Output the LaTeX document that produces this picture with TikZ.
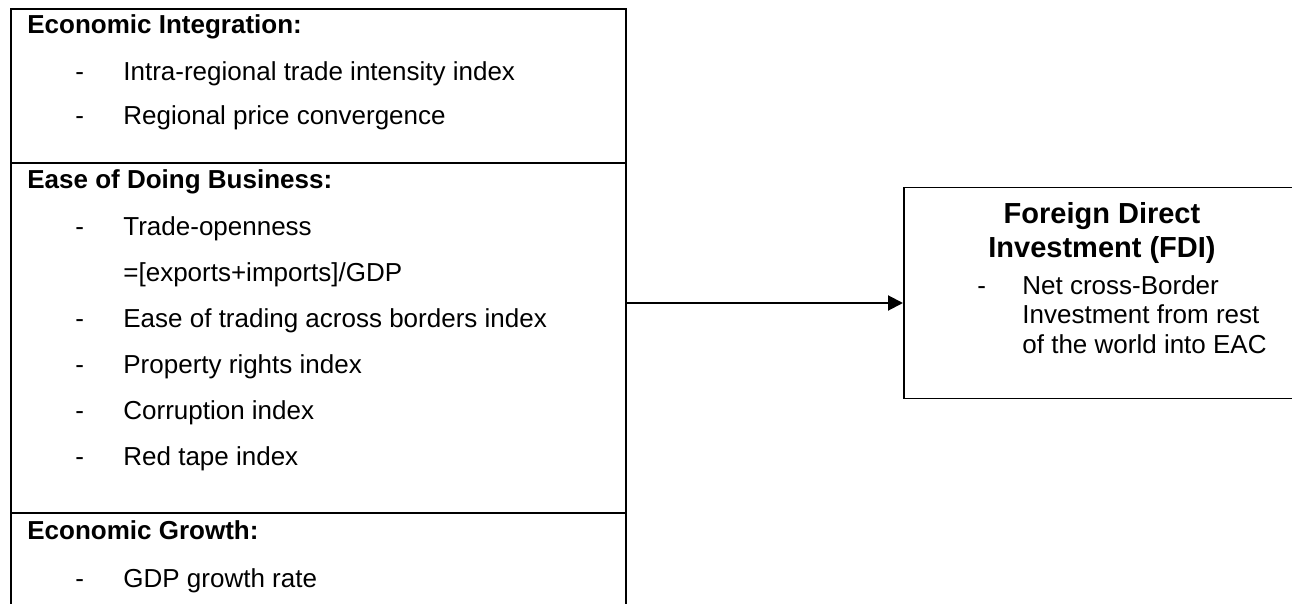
\documentclass[tikz,border=0pt]{standalone}
\usepackage{fontspec}
\setmainfont{Liberation Sans}
\usetikzlibrary{arrows.meta}
\begin{document}
\begin{tikzpicture}[x=0.5pt,y=-0.5pt,
  txt/.style={anchor=base west, inner sep=0, font=\fontsize{13}{15.6}\selectfont},
  hd/.style={anchor=base west, inner sep=0, font=\fontsize{13}{15.6}\selectfont\bfseries},
  ttl/.style={anchor=base, inner sep=0, font=\fontsize{14.5}{17}\selectfont\bfseries},
  leftbox/.style={draw, line width=1pt, inner sep=0, anchor=north west},
  fdibox/.style={draw, line width=0.75pt, inner sep=0, anchor=north west},
  divider/.style={line width=1pt},
  conn/.style={line width=1pt, -{Triangle[length=7.5pt,width=7.5pt]}}]
\clip (0,0) rectangle (1292,604);
\fill[white] (0,0) rectangle (1292,604);
% left box
\node[leftbox, minimum width=307.5pt, minimum height=306pt] (lb) at (10,8) {};
\coordinate (y1) at (0,163);
\coordinate (y2) at (0,513);
\draw[divider] (lb.west |- y1) -- (lb.east |- y1);
\draw[divider] (lb.west |- y2) -- (lb.east |- y2);
% section 1
\node[hd] (h1) at (27,34) {Economic Integration:};
\node[txt] (a1) at (75,81) {-};
\node[txt] (b1) at (123,81) {Intra-regional trade intensity index};
\node[txt] (a2) at (75,125) {-};
\node[txt] (b2) at (123,125) {Regional price convergence};
% section 2
\node[hd] (h2) at (27,189) {Ease of Doing Business:};
\node[txt] (a3) at (75,236) {-};
\node[txt] (b3) at (123,236) {Trade-openness};
\node[txt] (b4) at (123,282) {=[exports+imports]/GDP};
\node[txt] (a5) at (75,328) {-};
\node[txt] (b5) at (123,328) {Ease of trading across borders index};
\node[txt] (a6) at (75,374) {-};
\node[txt] (b6) at (123,374) {Property rights index};
\node[txt] (a7) at (75,420) {-};
\node[txt] (b7) at (123,420) {Corruption index};
\node[txt] (a8) at (75,466) {-};
\node[txt] (b8) at (123,466) {Red tape index};
% section 3
\node[hd] (h3) at (27,539) {Economic Growth:};
\node[txt] (a9) at (75,588) {-};
\node[txt] (b9) at (123,588) {GDP growth rate};
% FDI box
\node[fdibox, minimum width=203.5pt, minimum height=105.5pt] (fdi) at (903,187) {};
\node[ttl] (t1) at (1102,224) {Foreign Direct};
\node[ttl] (t2) at (1102,258) {Investment (FDI)};
\node[txt] (fa) at (977,295) {-};
\node[txt] (f1) at (1022,295) {Net cross-Border};
\node[txt] (f2) at (1022,324) {Investment from rest};
\node[txt] (f3) at (1022,354) {of the world into EAC};
% connector
\coordinate (ay) at (0,303);
\draw[conn] (lb.east |- ay) -- (fdi.west |- ay);
\end{tikzpicture}
\end{document}
